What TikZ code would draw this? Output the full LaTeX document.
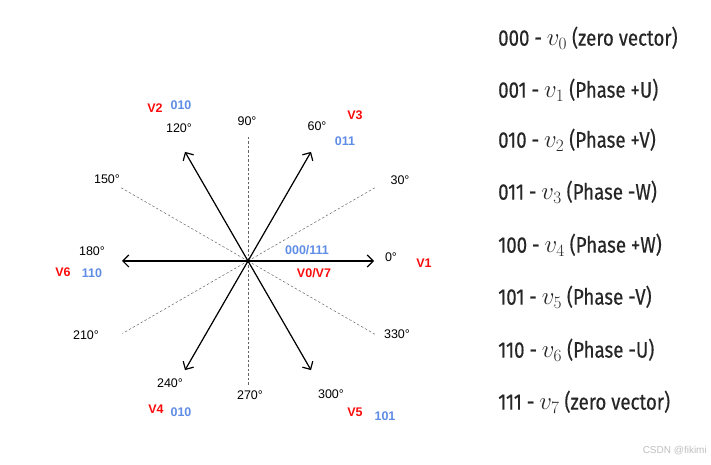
\documentclass[tikz,border=0pt]{standalone}
\usepackage{fontspec}
\setmainfont{Liberation Sans}
\newfontfamily\listfont[FakeStretch=0.83,FakeBold=0.4]{Fira Sans}
\usetikzlibrary{arrows.meta,calc}
\definecolor{vred}{RGB}{250,10,10}
\definecolor{codeblue}{RGB}{95,140,230}
\newcommand{\bigv}[1]{{\fontsize{27}{27}\selectfont$v_{#1}$}}

\begin{document}
\begin{tikzpicture}[x=1pt,y=1pt]
\tikzstyle{vec} = [draw, line width=1.2pt, -{Straight Barb[length=6pt,width=12pt]}]
\tikzstyle{axis} = [draw, dash pattern=on 2.5pt off 2pt, gray!80!black, line width=0.5pt]
\tikzstyle{deg} = [inner sep=0pt, font=\fontsize{12.5}{14}\selectfont]
\tikzstyle{vname} = [inner sep=0pt, text=vred, font=\bfseries\fontsize{12.5}{14}\selectfont]
\tikzstyle{code} = [inner sep=0pt, text=codeblue, font=\bfseries\fontsize{12.5}{14}\selectfont]
\tikzstyle{item} = [anchor=west, inner sep=0pt, text=black!85, font=\listfont\fontsize{22.5}{24}\selectfont]

\useasboundingbox (0,0) rectangle (711,465);
\coordinate (O) at (248,204);

% dashed angle lines
\foreach \a/\r in {0/120,30/148,60/120,90/125,120/120,150/148,
                   180/120,210/145,240/120,270/125,300/120,330/148}
{
  \coordinate (d\a) at ($(O)+(\a:\r)$);
  \path[axis] (O) -- (d\a);
}

% switching vectors
\foreach \a in {0,60,...,300}
{
  \coordinate (v\a) at ($(O)+(\a:126)$);
  \path[vec] (O) -- (v\a);
}

% angle labels
\node[deg] (l0)   at (391,208) {0°};
\node[deg] (l30)  at (400,285) {30°};
\node[deg] (l60)  at (317,339) {60°};
\node[deg] (l90)  at (247,344) {90°};
\node[deg] (l120) at (179,337) {120°};
\node[deg] (l150) at (107,286) {150°};
\node[deg] (l180) at (92,214)  {180°};
\node[deg] (l210) at (86,130)  {210°};
\node[deg] (l240) at (170,82)  {240°};
\node[deg] (l270) at (250,70)  {270°};
\node[deg] (l300) at (331,71)  {300°};
\node[deg] (l330) at (397,131) {330°};

% vector names and codes
\node[vname] (n1)  at (424,202) {V1};
\node[vname] (n2)  at (155,357) {V2};
\node[code]  (c2)  at (181,360) {010};
\node[vname] (n3)  at (355,350) {V3};
\node[code]  (c3)  at (345,324) {011};
\node[vname] (n4)  at (156,56)  {V4};
\node[code]  (c4)  at (181,53)  {010};
\node[vname] (n5)  at (355,53)  {V5};
\node[code]  (c5)  at (385,49)  {101};
\node[vname] (n6)  at (63,193)  {V6};
\node[code]  (c6)  at (92,192)  {110};
\node[code]  (c07) at (307,215) {000/111};
\node[vname] (n07) at (314,192) {V0/V7};

% state list
\node[item] (s0) at (498,427) {000 - \bigv{0} (zero vector)};
\node[item] (s1) at (498,375) {001 - \bigv{1} (Phase +U)};
\node[item] (s2) at (498,325) {010 - \bigv{2} (Phase +V)};
\node[item] (s3) at (498,273) {011 - \bigv{3} (Phase -W)};
\node[item] (s4) at (498,220) {100 - \bigv{4} (Phase +W)};
\node[item] (s5) at (498,168) {101 - \bigv{5} (Phase -V)};
\node[item] (s6) at (498,115) {110 - \bigv{6} (Phase -U)};
\node[item] (s7) at (498,63)  {111 - \bigv{7} (zero vector)};

\node[anchor=east, inner sep=0pt, text=gray!50, font=\fontsize{10}{12}\selectfont] (wm) at (707,14) {CSDN @fikimi};
\end{tikzpicture}
\end{document}
